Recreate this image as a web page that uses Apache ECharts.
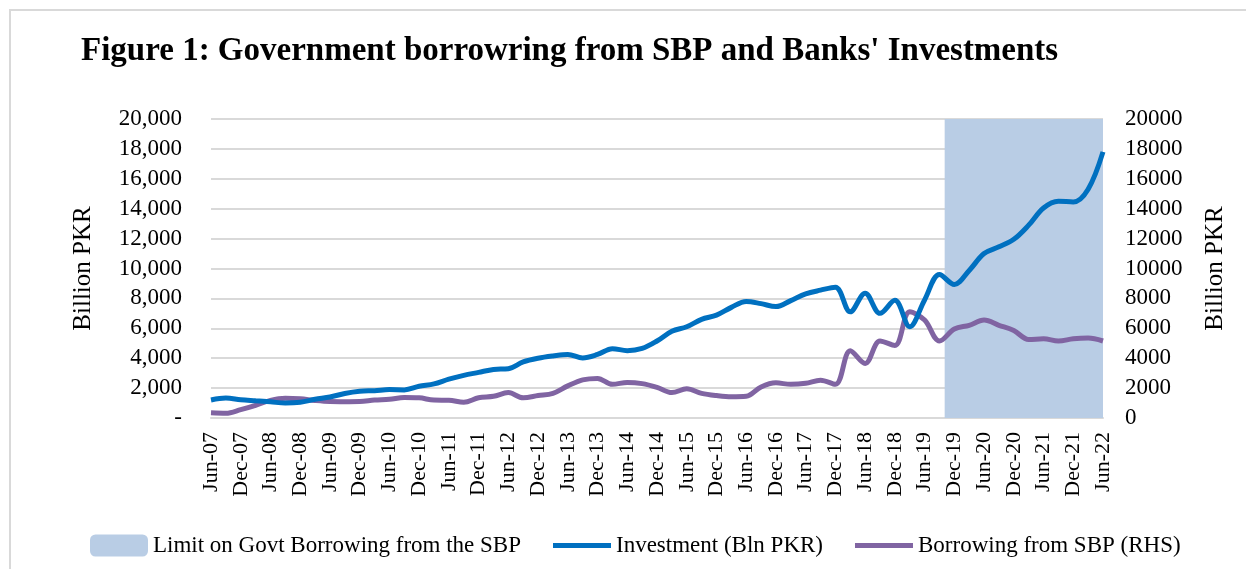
<!DOCTYPE html>
<html>
  <head>
    <meta charset="utf-8">
    <title>Figure 1</title>
    <style>
      body { margin: 0; background: #fff; }
      #main { width: 1246px; height: 569px; }
      #frame { position: absolute; left: 9px; top: 9px; width: 1240px; height: 570px;
               border-left: 2px solid #d9d9d9; border-top: 2px solid #d9d9d9; pointer-events: none; }
    </style>
  </head>
  <body>
    <div id="main"></div>
    <div id="frame"></div>

  <script src="https://cdn.jsdelivr.net/npm/echarts@6/dist/echarts.min.js" charset="utf-8"></script>
  <script type="text/javascript">
  // quarterly, Jun-07 .. Jun-22
  var quarters = [
    'Jun-07','Sep-07','Dec-07','Mar-08','Jun-08','Sep-08','Dec-08','Mar-09','Jun-09','Sep-09','Dec-09',
    'Mar-10','Jun-10','Sep-10','Dec-10','Mar-11','Jun-11','Sep-11','Dec-11','Mar-12','Jun-12','Sep-12',
    'Dec-12','Mar-13','Jun-13','Sep-13','Dec-13','Mar-14','Jun-14','Sep-14','Dec-14','Mar-15','Jun-15',
    'Sep-15','Dec-15','Mar-16','Jun-16','Sep-16','Dec-16','Mar-17','Jun-17','Sep-17','Dec-17','Mar-18',
    'Jun-18','Sep-18','Dec-18','Mar-19','Jun-19','Sep-19','Dec-19','Mar-20','Jun-20','Sep-20','Dec-20',
    'Mar-21','Jun-21','Sep-21','Dec-21','Mar-22','Jun-22'
  ];

  // Investment (Bln PKR)
  var investment = [
    1200, 1330, 1220, 1150, 1080, 1000, 1050, 1250, 1400, 1640, 1790,
    1830, 1900, 1880, 2120, 2280, 2600, 2850, 3050, 3250, 3300, 3750,
    4000, 4150, 4250, 4020, 4250, 4640, 4500, 4650, 5150, 5800, 6100,
    6600, 6880, 7400, 7800, 7650, 7450, 7850, 8300, 8550, 8750, 7100,
    8350, 7000, 7870, 6100, 7900, 9600, 8930, 9870, 11000, 11450, 11950,
    12900, 14050, 14500, 14450, 15300, 17800
  ];

  // Borrowing from SBP (RHS)
  var borrowing = [
    350, 320, 560, 850, 1180, 1320, 1280, 1170, 1100, 1090, 1100,
    1200, 1250, 1370, 1350, 1200, 1190, 1050, 1350, 1450, 1700, 1350,
    1500, 1650, 2150, 2550, 2650, 2250, 2380, 2300, 2050, 1700, 1950,
    1650, 1500, 1420, 1450, 2080, 2350, 2250, 2320, 2530, 2250, 4500,
    3650, 5150, 4850, 7100, 6550, 5150, 5950, 6200, 6550, 6200, 5850,
    5250, 5300, 5150, 5300, 5350, 5150
  ];

  // shaded period, in quarter positions (starts a little before Dec-19)
  var limitStart = 49.35;
  var limitEnd = 60;

  var font = '"Liberation Serif", "DejaVu Serif", serif';
  var lineIcon = 'path://M0,0H58V5H0Z';

  var myChart = echarts.init(document.getElementById('main'));

  var option = {
    backgroundColor: '#fff',
    animation: false,
    title: {
      text: "Figure 1: Government borrowring from SBP and Banks' Investments",
      left: 76,
      top: 30,
      textStyle: { fontFamily: font, fontWeight: 'bold', fontSize: 33, color: '#000' }
    },
    legend: {
      left: 85,
      top: 529,
      itemGap: 32,
      itemWidth: 58,
      itemHeight: 22,
      textStyle: { fontFamily: font, fontSize: 23, color: '#000' },
      data: [
        { name: 'Limit on Govt Borrowing from the SBP', icon: 'roundRect' },
        { name: 'Investment (Bln PKR)', icon: lineIcon },
        { name: 'Borrowing from SBP (RHS)', icon: lineIcon }
      ]
    },
    grid: { left: 211, right: 143, top: 119, bottom: 151 },
    xAxis: [
      {
        type: 'category',
        boundaryGap: false,
        data: quarters,
        axisLine: { lineStyle: { color: '#d9d9d9', width: 2 } },
        axisTick: { show: false },
        axisLabel: {
          interval: 1,
          rotate: 90,
          margin: 14,
          fontFamily: font,
          fontSize: 22,
          color: '#000'
        }
      },
      {
        // hidden helper axis so the shaded band can start between quarters
        type: 'value',
        min: 0, max: quarters.length - 1,
        show: false
      }
    ],
    yAxis: [
      {
        type: 'value',
        min: 0, max: 20000, interval: 2000,
        name: 'Billion PKR',
        nameLocation: 'middle',
        nameRotate: 90,
        nameGap: 115,
        nameTextStyle: { fontFamily: font, fontSize: 25, color: '#000' },
        splitLine: { lineStyle: { color: '#d9d9d9', width: 2 } },
        axisLine: { show: false },
        axisTick: { show: false },
        axisLabel: {
          margin: 29,
          fontFamily: font, fontSize: 23, color: '#000',
          formatter: function (v) { return v === 0 ? '-' : v.toLocaleString('en-US'); }
        }
      },
      {
        type: 'value',
        min: 0, max: 20000, interval: 2000,
        name: 'Billion PKR',
        nameLocation: 'middle',
        nameRotate: 90,
        nameGap: 100,
        nameTextStyle: { fontFamily: font, fontSize: 25, color: '#000' },
        splitLine: { show: false },
        axisLine: { show: false },
        axisTick: { show: false },
        axisLabel: {
          margin: 22,
          fontFamily: font, fontSize: 23, color: '#000',
          formatter: function (v) { return String(v); }
        }
      }
    ],
    series: [
      {
        name: 'Limit on Govt Borrowing from the SBP',
        type: 'line',
        xAxisIndex: 1,
        yAxisIndex: 1,
        data: [],
        itemStyle: { color: '#b9cde5' },
        z: 1,
        markArea: {
          silent: true,
          itemStyle: { color: '#b9cde5', opacity: 1 },
          data: [[{ xAxis: limitStart, yAxis: 0 }, { xAxis: limitEnd, yAxis: 20000 }]]
        }
      },
      {
        name: 'Investment (Bln PKR)',
        type: 'line',
        data: investment,
        smooth: 0.35,
        symbol: 'none',
        z: 3,
        itemStyle: { color: '#0070c0' },
        lineStyle: { color: '#0070c0', width: 5 }
      },
      {
        name: 'Borrowing from SBP (RHS)',
        type: 'line',
        yAxisIndex: 1,
        data: borrowing,
        smooth: 0.35,
        symbol: 'none',
        z: 2,
        itemStyle: { color: '#8064a2' },
        lineStyle: { color: '#8064a2', width: 5 }
      }
    ]
  };
  myChart.setOption(option);
  </script>
  </body>
</html>
